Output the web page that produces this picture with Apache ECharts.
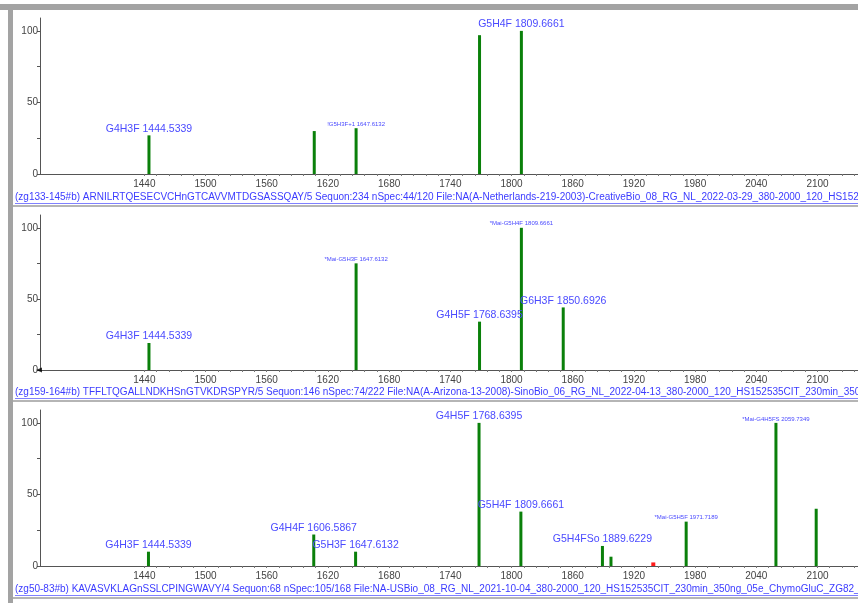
<!DOCTYPE html>
<html>
<head>
<meta charset="utf-8">
<script src="https://cdn.jsdelivr.net/npm/echarts@6/dist/echarts.min.js"></script>
<style>
  html, body { margin: 0; padding: 0; background: #fff; }
  #chart { width: 858px; height: 603px; }
</style>
</head>
<body>
<div id="chart"></div>
<script>
// m/z tick labels and relative intensity ticks
const massTicks = [1440, 1500, 1560, 1620, 1680, 1740, 1800, 1860, 1920, 1980, 2040, 2100];
const intensityTicks = [0, 50, 100];
const intensityMinorTicks = [0, 25, 50, 75, 100];

// Panel 1: (zg133-145) ARNILRTQESECVCHnGTCAVVMTDGSASSQAY
const p1Mass = [1444.5339, 1606.5867, 1647.6132, 1768.6395, 1809.6661];
const p1Int = [27, 30, 32, 97, 100];
const p1Names = ['G4H3F 1444.5339', '', '', '', 'G5H4F 1809.6661'];
const p1Notes = ['', '', '!G5H3F+1 1647.6132', '', ''];

// Panel 2: (zg159-164) TFFLTQGALLNDKHSnGTVKDRSPYR
const p2Mass = [1444.5339, 1647.6132, 1768.6395, 1809.6661, 1850.6926];
const p2Int = [19, 75, 34, 100, 44];
const p2Names = ['G4H3F 1444.5339', '', 'G4H5F 1768.6395', '', 'G6H3F 1850.6926'];
const p2Notes = ['', '*Mai-G5H3F 1647.6132', '', '*Mai-G5H4F 1809.6661', ''];

// Panel 3: (zg50-83) KAVASVKLAGnSSLCPINGWAVY
const p3Mass = [1444.5339, 1606.5867, 1647.6132, 1768.6395, 1809.6661, 1889.6229, 1898.0, 1971.7189, 2059.7349, 2099.2];
const p3Int = [10, 22, 10, 100, 38, 14, 6.5, 31, 100, 40];
const p3Names = ['G4H3F 1444.5339', 'G4H4F 1606.5867', 'G5H3F 1647.6132', 'G4H5F 1768.6395', 'G5H4F 1809.6661', 'G5H4FSo 1889.6229', '', '', '', ''];
const p3Notes = ['', '', '', '', '', '', '', '*Mai-G5H5F 1971.7189', '*Mai-G4H5FS 2059.7349', ''];
const p3FlagMass = [1939];
const p3FlagInt = [2.5];

const captions = [
  '(zg133-145#b) ARNILRTQESECVCHnGTCAVVMTDGSASSQAY/5 Sequon:234 nSpec:44/120 File:NA(A-Netherlands-219-2003)-CreativeBio_08_RG_NL_2022-03-29_380-2000_120_HS152535CIT_230min_350ng',
  '(zg159-164#b) TFFLTQGALLNDKHSnGTVKDRSPYR/5 Sequon:146 nSpec:74/222 File:NA(A-Arizona-13-2008)-SinoBio_06_RG_NL_2022-04-13_380-2000_120_HS152535CIT_230min_350ng_05e',
  '(zg50-83#b) KAVASVKLAGnSSLCPINGWAVY/4 Sequon:68 nSpec:105/168 File:NA-USBio_08_RG_NL_2021-10-04_380-2000_120_HS152535CIT_230min_350ng_05e_ChymoGluC_ZG82_I_01'
];

const FONT = 'Liberation Sans';
const LABEL_BLUE = '#4a4aff';
const BAR_GREEN = '#0a800a';
const AXIS_GREY = '#555555';

const massMin = 1337.7, massMax = 2139.7;
const minorMassTicks = [];
for (let m = massTicks[0]; m <= massMax; m += 12) minorMassTicks.push(m);

const grids = [
  { left: 40, right: 0, top: 18, height: 156 },
  { left: 40, right: 0, top: 215, height: 155 },
  { left: 40, right: 0, top: 410, height: 156 }
];

function xAxisFor(i) {
  return {
    type: 'value', gridIndex: i, min: massMin, max: massMax,
    axisLine: { show: true, onZero: false, lineStyle: { color: AXIS_GREY, width: 1 } },
    axisTick: { show: true, customValues: minorMassTicks, length: 2, lineStyle: { color: '#777' } },
    axisLabel: { show: true, customValues: massTicks, formatter: v => String(v),
      fontFamily: FONT, fontSize: 10, color: '#444', margin: 5 },
    splitLine: { show: false }
  };
}
function yAxisFor(i) {
  return {
    type: 'value', gridIndex: i, min: 0, max: 109,
    axisLine: { show: true, lineStyle: { color: AXIS_GREY, width: 1 } },
    axisTick: { show: true, customValues: intensityMinorTicks, length: 3, lineStyle: { color: AXIS_GREY } },
    axisLabel: { show: true, customValues: intensityTicks, formatter: v => String(v),
      fontFamily: FONT, fontSize: 10, color: '#444', margin: 2 },
    splitLine: { show: false }
  };
}

function peakData(mass, inten, names, notes) {
  return mass.map((m, k) => {
    const item = { value: [m, inten[k]] };
    if (names[k]) {
      item.label = { show: true, position: 'top', distance: 1, formatter: names[k],
        fontFamily: FONT, fontSize: 10.5, color: LABEL_BLUE };
    } else if (notes[k]) {
      item.label = { show: true, position: 'top', distance: 1, formatter: notes[k],
        fontFamily: FONT, fontSize: 6, color: LABEL_BLUE };
    }
    return item;
  });
}

function peakSeries(i, mass, inten, names, notes) {
  return {
    type: 'bar', xAxisIndex: i, yAxisIndex: i, barWidth: 3,
    itemStyle: { color: BAR_GREEN },
    data: peakData(mass, inten, names, notes),
    silent: true, animation: false
  };
}

const series = [
  peakSeries(0, p1Mass, p1Int, p1Names, p1Notes),
  peakSeries(1, p2Mass, p2Int, p2Names, p2Notes),
  peakSeries(2, p3Mass, p3Int, p3Names, p3Notes),
  {
    type: 'bar', xAxisIndex: 2, yAxisIndex: 2, barWidth: 4, barGap: '-100%',
    itemStyle: { color: '#ff1a1a' },
    data: p3FlagMass.map((m, k) => [m, p3FlagInt[k]]),
    silent: true, animation: false
  },
  {
    // origin pointer on the middle panel
    type: 'scatter', xAxisIndex: 1, yAxisIndex: 1,
    symbol: 'triangle', symbolSize: [5, 6], symbolRotate: 90, symbolOffset: [-1, 0],
    itemStyle: { color: '#000' },
    data: [[massMin, 0]], silent: true, animation: false
  }
];

const captionY = [198, 393, 590];
const graphic = [
  { type: 'rect', left: 0, top: 4, shape: { width: 858, height: 6 }, style: { fill: '#a3a3a3' }, z: 10 },
  { type: 'rect', left: 8, top: 4, shape: { width: 5, height: 599 }, style: { fill: '#a3a3a3' }, z: 10 }
];
captions.forEach((c, k) => {
  graphic.push({
    type: 'text', left: 15, top: captionY[k] - 6, z: 10,
    style: { text: c, fontFamily: FONT, fontSize: 10, fill: '#3b3bff' }
  });
  graphic.push({
    type: 'rect', left: 15, top: captionY[k] + 5, shape: { width: 843, height: 1 },
    style: { fill: '#8080ff' }, z: 10
  });
  graphic.push({
    type: 'rect', left: 13, top: captionY[k] + 7, shape: { width: 845, height: 2 },
    style: { fill: '#b5b5b5' }, z: 10
  });
});

const chart = echarts.init(document.getElementById('chart'), null, { renderer: 'canvas' });
chart.setOption({
  animation: false,
  backgroundColor: '#ffffff',
  grid: grids,
  xAxis: [xAxisFor(0), xAxisFor(1), xAxisFor(2)],
  yAxis: [yAxisFor(0), yAxisFor(1), yAxisFor(2)],
  series: series,
  graphic: graphic
});
</script>
</body>
</html>
